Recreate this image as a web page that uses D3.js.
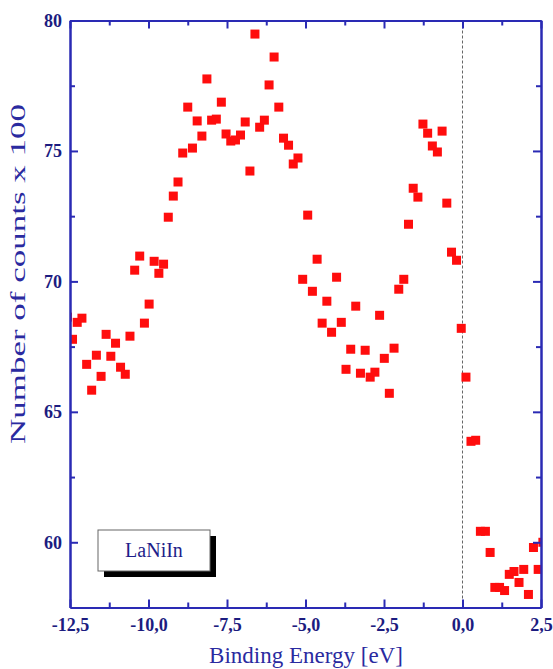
<!DOCTYPE html>
<html>
<head>
<meta charset="utf-8">
<script src="https://cdn.jsdelivr.net/npm/d3@7"></script>
<style>
body { margin: 0; background: #fff; }
</style>
</head>
<body>
<svg id="chart" width="553" height="669"></svg>
<script>
// binding energy [eV] of each point
var energy = [
	-12.58, -12.42, -12.27, -12.12, -11.97, -11.81, -11.66, -11.51, -11.35, -11.20,
	-11.05, -10.89, -10.74, -10.59, -10.44, -10.28, -10.13, -9.98, -9.82, -9.67,
	-9.52, -9.37, -9.21, -9.06, -8.91, -8.75, -8.60, -8.45, -8.30, -8.14,
	-7.99, -7.84, -7.68, -7.53, -7.38, -7.23, -7.07, -6.92, -6.77, -6.61,
	-6.46, -6.31, -6.16, -6.00, -5.85, -5.70, -5.54, -5.39, -5.24, -5.09,
	-4.93, -4.78, -4.63, -4.47, -4.32, -4.17, -4.01, -3.86, -3.71, -3.56,
	-3.40, -3.25, -3.10, -2.94, -2.79, -2.64, -2.49, -2.33, -2.18, -2.03,
	-1.87, -1.72, -1.57, -1.42, -1.26, -1.11, -0.96, -0.80, -0.65, -0.50,
	-0.35, -0.19, -0.04, 0.11, 0.27, 0.42, 0.57, 0.73, 0.88, 1.03,
	1.18, 1.34, 1.49, 1.64, 1.80, 1.95, 2.10, 2.26, 2.41, 2.56
];
// counts x 100
var counts = [
	68.63, 67.78, 68.43, 68.59, 66.82, 65.83, 67.17, 66.36, 67.97, 67.13,
	67.63, 66.71, 66.44, 67.90, 70.43, 70.97, 68.40, 69.13, 70.77, 70.31,
	70.66, 72.46, 73.27, 73.81, 74.92, 76.68, 75.11, 76.15, 75.57, 77.76,
	76.18, 76.22, 76.87, 75.65, 75.38, 75.42, 75.61, 76.11, 74.23, 79.48,
	75.91, 76.18, 77.53, 78.60, 76.68, 75.49, 75.22, 74.50, 74.73, 70.08,
	72.54, 69.62, 70.85, 68.40, 69.24, 68.05, 70.16, 68.43, 66.63, 67.40,
	69.05, 66.48, 67.36, 66.33, 66.52, 68.70, 67.05, 65.71, 67.44, 69.70,
	70.08, 72.19, 73.57, 73.23, 76.03, 75.68, 75.19, 74.96, 75.76, 73.00,
	71.12, 70.81, 68.20, 66.33, 63.87, 63.91, 60.42, 60.42, 59.61, 58.27,
	58.27, 58.15, 58.77, 58.88, 58.46, 58.96, 58.00, 59.80, 58.96, 60.00
];
var xTicks = [-12.5, -10, -7.5, -5, -2.5, 0, 2.5];
var xMinorTicks = [-11.25, -8.75, -6.25, -3.75, -1.25, 1.25];
var yTicks = [60, 65, 70, 75, 80];
var yMinorTicks = [62.5, 67.5, 72.5, 77.5];
var sampleLabel = "LaNiIn";

var data = energy.map((e, i) => ({ e: e, c: counts[i] }));

var svg = d3.select("#chart");
var pLeft = 70, pRight = 541, pTop = 20.5, pBottom = 607.5;
var axisColor = "#2a2ab4";
var labelColor = "#1c1c80";
var serif = "'Liberation Serif', 'Times New Roman', serif";

var x = d3.scaleLinear().domain([-12.5, 2.5]).range([pLeft, pRight]);
var y = d3.scaleLinear().domain([57.5, 80]).range([pBottom, pTop]);

var fmt = d => d3.format(".1f")(d).replace(".", ",").replace("−", "-");

svg.append("clipPath").attr("id", "plotclip")
	.append("rect")
	.attr("x", pLeft).attr("y", pTop)
	.attr("width", pRight - pLeft).attr("height", pBottom - pTop);

// zero line
svg.append("line")
	.attr("x1", x(0)).attr("x2", x(0))
	.attr("y1", pTop).attr("y2", pBottom)
	.style("stroke", "#666")
	.style("stroke-width", 1)
	.style("stroke-dasharray", "3,2");

// points
svg.append("g").attr("clip-path", "url(#plotclip)")
	.selectAll("rect")
	.data(data)
	.enter()
	.append("rect")
	.attr("x", d => x(d.e) - 4.5)
	.attr("y", d => y(d.c) - 4.5)
	.attr("width", 9)
	.attr("height", 9)
	.attr("fill", "#ff0d0d");

var styleAxis = function(g){
	g.select(".domain").style("stroke", axisColor).style("stroke-width", 2);
	g.selectAll(".tick line").style("stroke", axisColor).style("stroke-width", 2);
	g.selectAll(".tick text")
		.style("fill", labelColor)
		.style("font-family", serif)
		.style("font-weight", "bold")
		.style("font-size", "18px");
};

// bottom axis
svg.append("g").attr("transform", "translate(0," + pBottom + ")")
	.call(d3.axisBottom(x).tickValues(xTicks).tickSize(-8).tickSizeOuter(0).tickPadding(11).tickFormat(fmt))
	.call(styleAxis);
svg.append("g").attr("transform", "translate(0," + pBottom + ")")
	.call(d3.axisBottom(x).tickValues(xMinorTicks).tickSize(-5).tickSizeOuter(0).tickFormat(""))
	.call(styleAxis);
// top axis
svg.append("g").attr("transform", "translate(0," + pTop + ")")
	.call(d3.axisTop(x).tickValues(xTicks).tickSize(-8).tickSizeOuter(0).tickFormat(""))
	.call(styleAxis);
svg.append("g").attr("transform", "translate(0," + pTop + ")")
	.call(d3.axisTop(x).tickValues(xMinorTicks).tickSize(-5).tickSizeOuter(0).tickFormat(""))
	.call(styleAxis);
// left axis
svg.append("g").attr("transform", "translate(" + pLeft + ",0)")
	.call(d3.axisLeft(y).tickValues(yTicks).tickSize(-8).tickSizeOuter(0).tickPadding(8).tickFormat(d3.format("d")))
	.call(styleAxis);
svg.append("g").attr("transform", "translate(" + pLeft + ",0)")
	.call(d3.axisLeft(y).tickValues(yMinorTicks).tickSize(-5).tickSizeOuter(0).tickFormat(""))
	.call(styleAxis);
// right axis
svg.append("g").attr("transform", "translate(" + pRight + ",0)")
	.call(d3.axisRight(y).tickValues(yTicks).tickSize(-8).tickSizeOuter(0).tickFormat(""))
	.call(styleAxis);
svg.append("g").attr("transform", "translate(" + pRight + ",0)")
	.call(d3.axisRight(y).tickValues(yMinorTicks).tickSize(-5).tickSizeOuter(0).tickFormat(""))
	.call(styleAxis);

// axis titles
svg.append("text")
	.attr("x", 306)
	.attr("y", 663)
	.attr("text-anchor", "middle")
	.style("font-family", serif)
	.style("font-size", "23px")
	.style("fill", "#2a2aa0")
	.text("Binding Energy [eV]");

svg.append("text")
	.attr("transform", "translate(25," + 274 + ") rotate(-90)")
	.attr("text-anchor", "middle")
	.attr("textLength", 340)
	.attr("lengthAdjust", "spacingAndGlyphs")
	.style("font-family", serif)
	.style("font-size", "22px")
	.style("fill", "#2a2aa0")
	.text("Number of counts x 100");

// sample label box
var box = svg.append("g").attr("transform", "translate(98,530)");
box.append("rect").attr("x", 6).attr("y", 6).attr("width", 112).attr("height", 41).attr("fill", "#000");
box.append("rect").attr("width", 112).attr("height", 41).attr("fill", "#fff")
	.style("stroke", "#666").style("stroke-width", 1);
box.append("text")
	.attr("x", 56).attr("y", 27)
	.attr("text-anchor", "middle")
	.style("font-family", serif)
	.style("font-size", "20px")
	.style("fill", "#1e1e8a")
	.text(sampleLabel);
</script>
</body>
</html>
